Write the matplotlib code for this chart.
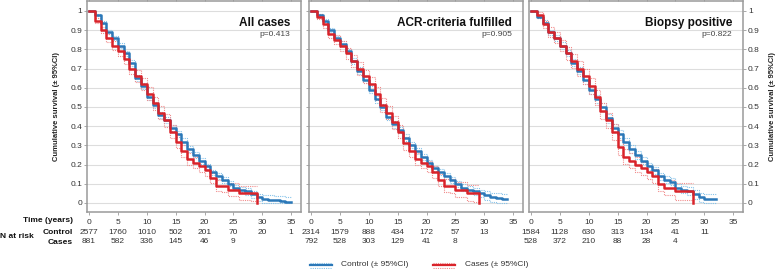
import numpy as np
import matplotlib
matplotlib.use("Agg")
import matplotlib.pyplot as plt
from matplotlib.lines import Line2D
from matplotlib.transforms import blended_transform_factory

plt.rcParams['font.family'] = ['Liberation Sans', 'DejaVu Sans']

# survival level on each yearly interval [i, i+1)
p1_ctrl = [1.0, 0.98, 0.94, 0.89, 0.86, 0.82, 0.78, 0.73, 0.65, 0.61, 0.55, 0.51, 0.46, 0.43, 0.39, 0.36, 0.32,
           0.28, 0.25, 0.22, 0.19, 0.16, 0.14, 0.12, 0.10, 0.08, 0.07, 0.06, 0.045, 0.03, 0.022, 0.017, 0.014,
           0.010, 0.005]
p1_case = [1.0, 0.95, 0.90, 0.86, 0.82, 0.79, 0.75, 0.70, 0.66, 0.62, 0.57, 0.52, 0.47, 0.43, 0.37, 0.32, 0.27,
           0.23, 0.21, 0.19, 0.17, 0.13, 0.09, 0.09, 0.07, 0.07, 0.05, 0.05, 0.05]
p2_ctrl = [1.0, 0.98, 0.95, 0.90, 0.86, 0.83, 0.79, 0.74, 0.69, 0.64, 0.59, 0.54, 0.50, 0.45, 0.41, 0.38, 0.34,
           0.30, 0.27, 0.24, 0.21, 0.18, 0.16, 0.14, 0.12, 0.10, 0.08, 0.07, 0.06, 0.05, 0.04, 0.03, 0.025, 0.02]
p2_case = [1.0, 0.97, 0.93, 0.88, 0.85, 0.82, 0.78, 0.74, 0.70, 0.66, 0.62, 0.57, 0.51, 0.47, 0.42, 0.37, 0.31,
           0.27, 0.23, 0.21, 0.19, 0.16, 0.12, 0.09, 0.09, 0.07, 0.07, 0.05, 0.05]
p3_ctrl = [1.0, 0.97, 0.94, 0.89, 0.86, 0.82, 0.78, 0.73, 0.69, 0.64, 0.59, 0.54, 0.50, 0.44, 0.39, 0.36, 0.32,
           0.28, 0.25, 0.22, 0.19, 0.17, 0.14, 0.12, 0.11, 0.08, 0.07, 0.06, 0.045, 0.03, 0.02, 0.02]
p3_case = [1.0, 0.98, 0.93, 0.89, 0.86, 0.82, 0.78, 0.74, 0.70, 0.66, 0.61, 0.55, 0.48, 0.43, 0.37, 0.29, 0.24,
           0.22, 0.20, 0.18, 0.16, 0.14, 0.10, 0.08, 0.08, 0.06, 0.06, 0.06]

# half width of the 95% CI band on each interval
p1_ctrl_ci = [0, .006, .008, .010, .011, .012, .013, .014, .015, .015, .016, .016, .016, .016, .016, .016, .016,
              .015, .015, .015, .014, .014, .014, .014, .014, .014, .015, .016, .017, .018, .020, .022, .024,
              .026, .028]
p1_case_ci = [0, .012, .016, .020, .023, .025, .027, .029, .031, .032, .033, .034, .034, .034, .034, .033, .032,
              .031, .030, .029, .028, .028, .030, .032, .034, .035, .036, .037, .038]
p2_ctrl_ci = [0, .006, .009, .011, .012, .013, .014, .015, .016, .017, .017, .017, .017, .017, .017, .017, .017,
              .016, .016, .016, .015, .015, .015, .015, .016, .016, .017, .018, .019, .020, .022, .024, .026, .028]
p2_case_ci = [0, .013, .017, .021, .024, .026, .028, .030, .032, .033, .034, .035, .035, .035, .035, .034, .033,
              .032, .031, .030, .030, .030, .032, .034, .036, .038, .040, .042, .044]
p3_ctrl_ci = [0, .008, .011, .013, .015, .016, .017, .018, .019, .020, .020, .021, .021, .021, .021, .021, .020,
              .020, .019, .019, .018, .018, .018, .018, .018, .019, .020, .021, .022, .024, .026, .028]
p3_case_ci = [0, .015, .020, .025, .028, .031, .033, .035, .037, .039, .040, .041, .041, .041, .041, .040, .039,
              .038, .037, .036, .035, .035, .036, .038, .040, .042, .044, .046]

# end of follow-up (control stops, cases drop to zero)
ctrl_end = [35, 34, 32]
case_end = [29, 29, 28]

titles = ["All cases", "ACR-criteria fulfilled", "Biopsy positive"]
pvals = ["p=0.413", "p=0.905", "p=0.822"]

risk_times = [0, 5, 10, 15, 20, 25, 30, 35]
risk_ctrl = [[2577, 1760, 1010, 502, 201, 70, 20, 1],
             [2314, 1579, 888, 434, 172, 57, 13],
             [1584, 1128, 630, 313, 134, 41, 11]]
risk_case = [[881, 582, 336, 145, 46, 9],
             [792, 528, 303, 129, 41, 8],
             [528, 372, 210, 88, 28, 4]]

BLUE = "#2b78b8"
BLUE_CI = "#86c3ea"
RED = "#d9232a"
RED_CI = "#f18b8b"
TXT = "#333333"

W, H = 778, 269
fig = plt.figure(figsize=(W / 100, H / 100), dpi=100)


def draw_series(ax, levels, hw, t_end, color, ci_color, drop):
    levels = np.asarray(levels, dtype=float)
    hw = np.asarray(hw, dtype=float)
    x = np.append(np.arange(len(levels)), t_end)
    for sign in (1, -1):
        band = np.clip(levels + sign * hw, 0, 1)
        ax.step(x, np.append(band, band[-1]), where='post', color=ci_color, lw=0.8,
                ls=(0, (1, 1)), zorder=2)
    last = 0.0 if drop else levels[-1]
    ax.step(x, np.append(levels, last), where='post', color=color, lw=1.8, zorder=3)


ctrls = [(p1_ctrl, p1_ctrl_ci), (p2_ctrl, p2_ctrl_ci), (p3_ctrl, p3_ctrl_ci)]
cases = [(p1_case, p1_case_ci), (p2_case, p2_case_ci), (p3_case, p3_case_ci)]
lefts = [87, 309, 529]
bottom_px, top_px = 212, 1

for i in range(3):
    ax = fig.add_axes([lefts[i] / W, 1 - bottom_px / H, 214 / W, (bottom_px - top_px) / H])
    draw_series(ax, ctrls[i][0], ctrls[i][1], ctrl_end[i], BLUE, BLUE_CI, False)
    draw_series(ax, cases[i][0], cases[i][1], case_end[i], RED, RED_CI, True)

    ax.set_xlim(-0.35, 36.7)
    ax.set_ylim(-0.047, 1.052)
    ax.set_xticks(range(0, 36, 5))
    ax.set_yticks(np.arange(0, 1.01, 0.1))
    ax.set_yticklabels(["0", "0.1", "0.2", "0.3", "0.4", "0.5", "0.6", "0.7", "0.8", "0.9", "1"])
    ax.grid(axis='y', color="#dddddd", lw=0.8)
    ax.set_axisbelow(True)
    for s in ax.spines.values():
        s.set_color("#9a9a9a")
        s.set_linewidth(1.1)
    ax.tick_params(axis='x', top=True, direction='out', length=2.5, width=0.6, color="#9a9a9a",
                   labelsize=6, labelcolor=TXT, pad=2.5)
    if i == 2:
        ax.tick_params(axis='y', left=False, right=True, labelleft=False, labelright=True,
                       length=2, width=0.6, color="#9a9a9a", labelsize=6, labelcolor=TXT, pad=1.5)
    else:
        ax.tick_params(axis='y', length=2, width=0.6, color="#9a9a9a", labelsize=6,
                       labelcolor=TXT, pad=1.5, labelleft=(i == 0))

    ax.text(0.949, 0.896, titles[i], transform=ax.transAxes, ha='right', va='center',
            fontsize=8.5, fontweight='bold', color="#111111")
    ax.text(0.949, 0.839, pvals[i], transform=ax.transAxes, ha='right', va='center',
            fontsize=6, color="#444444")

    tr = blended_transform_factory(ax.transData, ax.transAxes)
    for t, n in zip(risk_times, risk_ctrl[i]):
        ax.text(t, -0.095, str(n), transform=tr, ha='center', va='center', fontsize=6,
                color=TXT, clip_on=False)
    for t, n in zip(risk_times, risk_case[i]):
        ax.text(t, -0.142, str(n), transform=tr, ha='center', va='center', fontsize=6,
                color=TXT, clip_on=False)

# risk table labels
fig.text(72.7 / W, 1 - 221 / H, "Time (years)", ha='right', va='center', fontsize=6,
         fontweight='bold', color="#111111")
fig.text(72.7 / W, 1 - 232 / H, "Control", ha='right', va='center', fontsize=6,
         fontweight='bold', color="#111111")
fig.text(72.7 / W, 1 - 242 / H, "Cases", ha='right', va='center', fontsize=6,
         fontweight='bold', color="#111111")
fig.text(0.5 / W, 1 - 237 / H, "N at risk", ha='left', va='center', fontsize=6,
         fontweight='bold', color="#111111")

# axis labels
ylab = "Cumulative survival (\u00b1 95%CI)"
fig.text(57 / W, 1 - 106.5 / H, ylab, rotation=90, ha='center', va='center', fontsize=5.5,
         fontweight='bold', color="#222222")
fig.text(772 / W, 1 - 106.5 / H, ylab, rotation=90, ha='center', va='center', fontsize=5.5,
         fontweight='bold', color="#222222")

# legend
ly = 1 - 265 / H
dy = 2.5 / H
for x0, x1, tx, col, ccol, lab in [(310, 332, 341, BLUE, BLUE_CI, "Control (\u00b1 95%CI)"),
                                  (433, 455, 465, RED, RED_CI, "Cases (\u00b1 95%CI)")]:
    for off in (dy, -dy):
        fig.add_artist(Line2D([x0 / W, x1 / W], [ly + off, ly + off], transform=fig.transFigure,
                              color=ccol, lw=0.8, ls=(0, (1, 1))))
    fig.add_artist(Line2D([x0 / W, x1 / W], [ly, ly], transform=fig.transFigure, color=col, lw=1.6))
    fig.text(tx / W, ly, lab, ha='left', va='center', fontsize=6, color=TXT)

fig.savefig("out.png", dpi=100)
